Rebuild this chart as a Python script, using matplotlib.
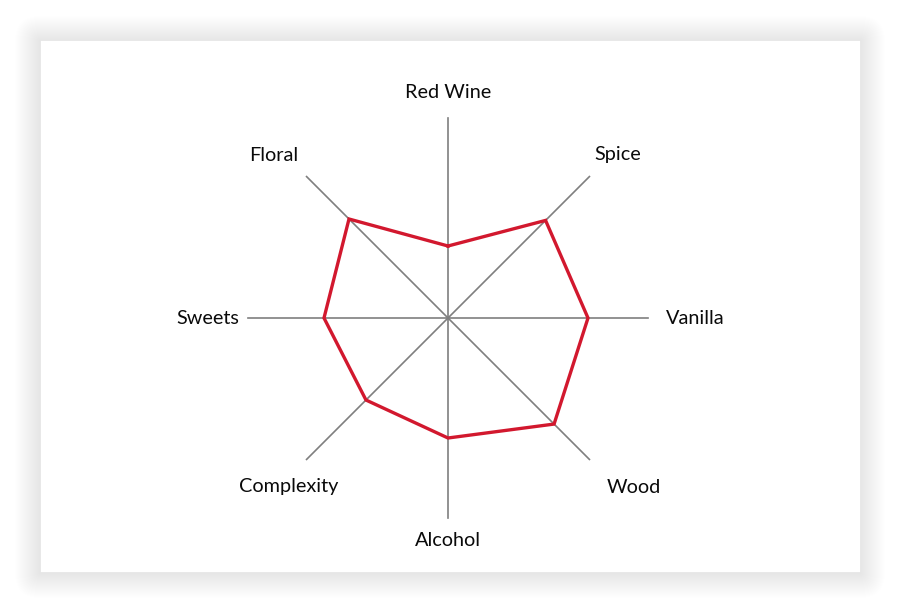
import numpy as np
import matplotlib
matplotlib.use("Agg")
import matplotlib.pyplot as plt
from matplotlib.patches import FancyBboxPatch, Rectangle

# données du profil aromatique (échelle 0-10)
categories = ["Red Wine", "Spice", "Vanilla", "Wood", "Alcohol", "Complexity", "Sweets", "Floral"]
values = [3.6, 6.9, 7.0, 7.5, 6.0, 5.8, 6.2, 7.0]
# position des étiquettes (angle en degrés, rayon)
label_angle = [0, 46.2, 90, 132.3, 180, 223.3, 270, 313.1]
label_radius = [11.3, 11.78, 12.35, 12.57, 11.15, 11.6, 12.0, 11.92]
r_max = 10

plt.rcParams['font.family'] = ['Lato', 'DejaVu Sans']

W, H = 900, 612
fig = plt.figure(figsize=(W / 100, H / 100), dpi=100)
fig.patch.set_facecolor("white")

# fond en pixels : carte blanche avec ombre douce
bg = fig.add_axes([0, 0, 1, 1])
bg.set_xlim(0, W)
bg.set_ylim(0, H)
bg.axis("off")
x0, y0, cw, ch = 40, H - 572, 820, 532
for pad in range(25, 0, -1):
    bg.add_patch(FancyBboxPatch((x0 - pad, y0 - pad - 1), cw + 2 * pad, ch + 2 * pad,
                                boxstyle="round,pad=0,rounding_size=%d" % pad,
                                facecolor="black", edgecolor="none", alpha=0.0042))
bg.add_patch(Rectangle((x0, y0), cw, ch, facecolor="white", edgecolor="#e4e4e4", linewidth=0.5))

cx, cy, rad = 448, H - 318, 200
ax = fig.add_axes([(cx - rad) / W, (cy - rad) / H, 2 * rad / W, 2 * rad / H], projection="polar")
ax.patch.set_alpha(0)
ax.set_theta_zero_location("N")
ax.set_theta_direction(-1)
ax.set_ylim(0, r_max)
ax.grid(False)
ax.spines["polar"].set_visible(False)
ax.set_xticks([])
ax.set_yticks([])

angles = np.linspace(0, 2 * np.pi, len(categories), endpoint=False)

# rayons
for a in angles:
    ax.plot([a, a], [0, r_max], color="#7f7f7f", linewidth=1.2, zorder=1, clip_on=False)

# polygone
ax.plot(np.append(angles, angles[0]), values + [values[0]], color="#d2182e",
        linewidth=2.4, zorder=3, solid_joinstyle="miter", clip_on=False)

for lab, la, lr in zip(categories, label_angle, label_radius):
    ax.text(np.deg2rad(la), lr, lab, ha="center", va="center", fontsize=14.3,
            color="#0a0a0a", clip_on=False)

fig.savefig("out.png", dpi=100)
